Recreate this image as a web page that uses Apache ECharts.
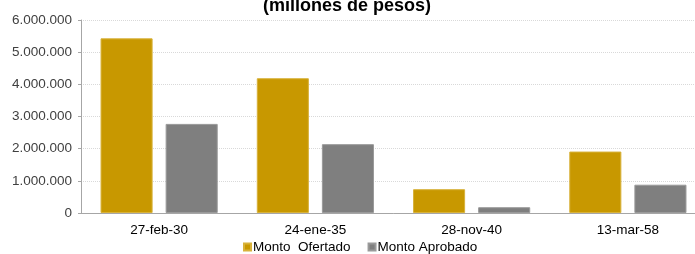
<!DOCTYPE html>
<html>
<head>
<meta charset="utf-8">
<script src="https://cdn.jsdelivr.net/npm/echarts@6/dist/echarts.min.js"></script>
<style>
html,body{margin:0;padding:0;background:#fff;overflow:hidden;}
#chart{width:706px;height:254px;}
</style>
</head>
<body>
<div id="chart"></div>
<script>
var categories = ['27-feb-30', '24-ene-35', '28-nov-40', '13-mar-58'];
var ofertado = [5430000, 4190000, 740000, 1910000];
var aprobado = [2770000, 2140000, 180000, 880000];
var seriesNames = ['Monto  Ofertado', 'Monto Aprobado'];

var chart = echarts.init(document.getElementById('chart'), null, {renderer: 'canvas'});

function fmt(v) {
    return String(v).replace(/\B(?=(\d{3})+(?!\d))/g, '.');
}

var font = 'Liberation Sans, Arial, sans-serif';

var option = {
    animation: false,
    textStyle: {fontFamily: font},
    color: ['#C89800', '#7F7F7F'],
    title: {
        text: '(millones de pesos)',
        left: 263,
        top: -3,
        padding: 0,
        textStyle: {fontSize: 18, fontWeight: 'bold', color: '#000', fontFamily: font}
    },
    legend: {
        data: seriesNames,
        top: 240,
        left: 243,
        padding: 0,
        itemWidth: 7,
        itemHeight: 7,
        itemGap: 17,
        icon: 'rect',
        textStyle: {fontSize: 13.5, color: '#000', padding: [0, 0, 0, -3]}
    },
    grid: {left: 81, right: 0, top: 20, bottom: 41, containLabel: false},
    xAxis: {
        type: 'category',
        data: categories,
        axisLine: {lineStyle: {color: '#A6A6A6', width: 1}},
        axisTick: {show: false},
        axisLabel: {fontSize: 13.5, color: '#000', margin: 10}
    },
    yAxis: {
        type: 'value',
        min: 0,
        max: 6000000,
        interval: 1000000,
        axisLine: {show: true, lineStyle: {color: '#A6A6A6'}},
        axisTick: {show: true, length: 3, lineStyle: {color: '#A6A6A6'}},
        splitLine: {lineStyle: {color: '#D9D9D9', type: 'dotted'}},
        axisLabel: {fontSize: 13.5, color: '#404040', margin: 9, formatter: fmt}
    },
    series: [
        {
            name: seriesNames[0],
            type: 'bar',
            data: ofertado,
            barGap: '25%',
            barCategoryGap: '25%',
            itemStyle: {borderColor: '#D8B23A', borderWidth: 1}
        },
        {
            name: seriesNames[1],
            type: 'bar',
            data: aprobado,
            itemStyle: {borderColor: '#9A9A9A', borderWidth: 1}
        }
    ]
};
chart.setOption(option);
</script>
</body>
</html>
